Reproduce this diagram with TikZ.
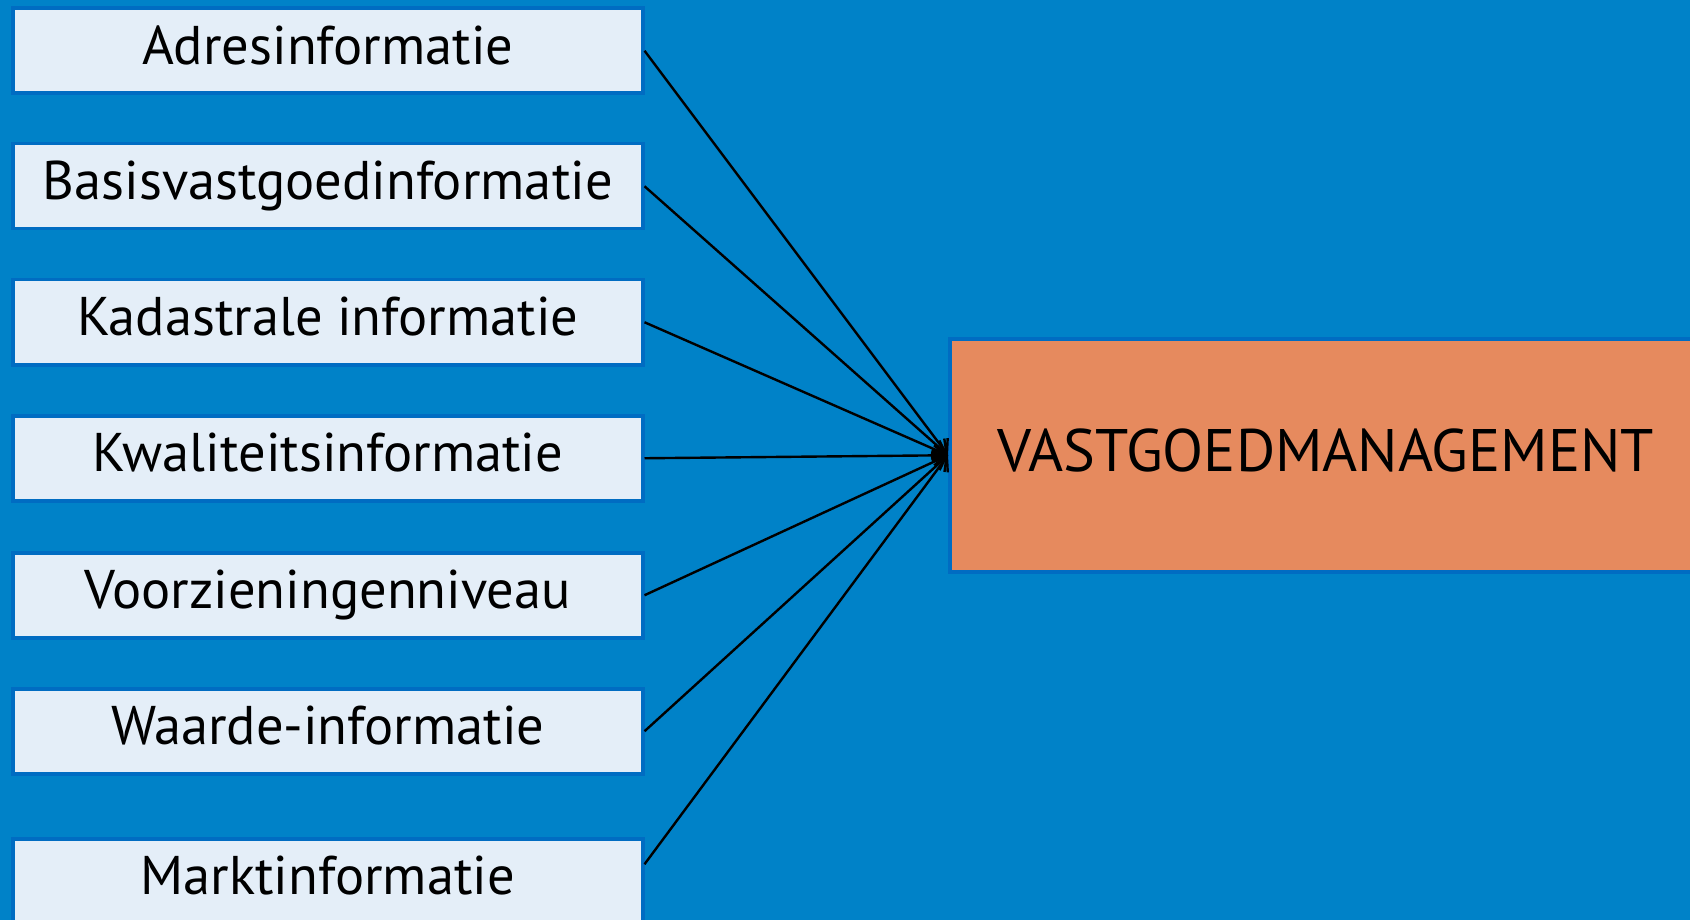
\documentclass[tikz,border=0pt]{standalone}
\usepackage{fontspec}
\setmainfont{PT Sans}
\usetikzlibrary{arrows.meta}
\definecolor{bgblue}{HTML}{0082C8}
\definecolor{edgeblue}{HTML}{006CC2}
\definecolor{boxfill}{HTML}{E4EEF8}
\definecolor{vmorange}{HTML}{E68A5E}
\tikzset{
  infobox/.style={draw=edgeblue, line width=3.5pt, fill=boxfill, anchor=north west,
    minimum width=630pt, minimum height=85pt, inner sep=0pt,
    text height=40pt, text depth=13pt, font=\fontsize{54.5}{60}\selectfont},
  vmbox/.style={draw=edgeblue, line width=3.5pt, fill=vmorange, anchor=north west,
    minimum width=760pt, minimum height=233pt, inner sep=0pt,
    text height=45pt, text depth=12pt, font=\fontsize{60}{66}\selectfont},
  feed/.style={line width=2.4pt, -{Straight Barb[length=12pt,width=20pt,line width=2.4pt]}}
}
\begin{document}
\begin{tikzpicture}[x=1pt,y=-1pt]
\useasboundingbox (0,0) rectangle (1690,920);
\fill[bgblue] (0,0) rectangle (1690,920);
\begin{scope}
\clip (0,0) rectangle (1690,920);
\node[infobox] (b1) at (11,6.5) {Adresinformatie};
\node[infobox] (b2) at (11,142) {Basisvastgoedinformatie};
\node[infobox] (b3) at (11,278) {Kadastrale informatie};
\node[infobox] (b4) at (11,414) {Kwaliteitsinformatie};
\node[infobox] (b5) at (11,551) {Voorzieningenniveau};
\node[infobox] (b6) at (11,687) {Waarde-informatie};
\node[infobox] (b7) at (11,837) {Marktinformatie};
\node[vmbox] (vm) at (948,337) {\hspace*{-8pt}VASTGOEDMANAGEMENT};
\draw[feed] (b1.east) -- (vm.west);
\draw[feed] (b2.east) -- (vm.west);
\draw[feed] (b3.east) -- (vm.west);
\draw[feed] (b4.east) -- (vm.west);
\draw[feed] (b5.east) -- (vm.west);
\draw[feed] (b6.east) -- (vm.west);
\draw[feed] ([yshift=17pt]b7.east) -- (vm.west);
\end{scope}
\end{tikzpicture}
\end{document}
